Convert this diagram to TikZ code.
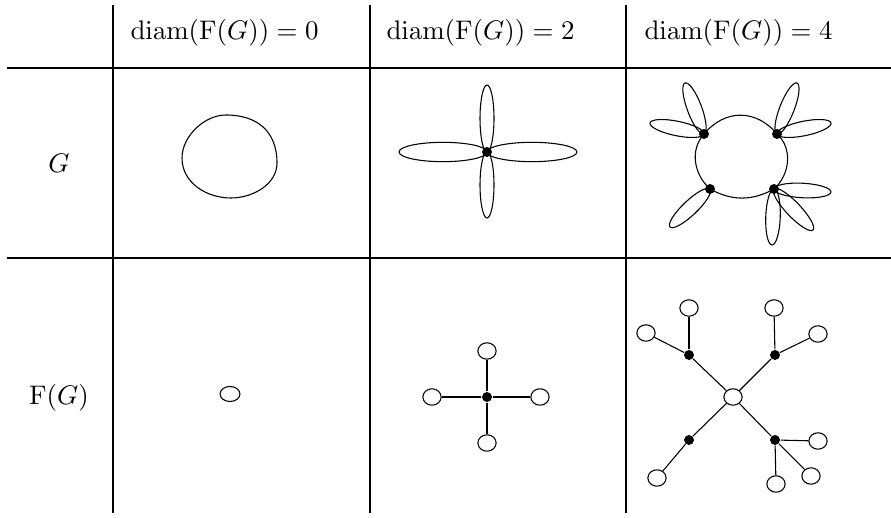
\documentclass[tikz,border=0pt]{standalone}
\usetikzlibrary{shapes.geometric,calc}
\tikzset{
  rule/.style={line width=0.45pt},
  curve/.style={line width=0.4pt},
  dot/.style={circle,fill=black,inner sep=0pt,minimum size=3.7pt},
  leaf/.style={ellipse,draw,line width=0.4pt,inner sep=0pt,minimum width=6.8pt,minimum height=6.1pt},
  edge/.style={line width=0.4pt},
  lbl/.style={inner sep=0pt,font=\normalsize}
}
\newcommand{\petal}[5]{%
  \pgfmathsetmacro\pa{atan2(-(#4-#2),#3-#1)}%
  \pgfmathsetmacro\pl{0.5*0.372*veclen(#3-#1,#4-#2)}%
  \draw[curve] ({(#1+#3)/2},{(#2+#4)/2}) circle [x radius=\pl pt, y radius=#5pt, rotate=\pa];%
}
\begin{document}
\begin{tikzpicture}[x=0.372pt,y=-0.372pt]
\useasboundingbox (0,0) rectangle (891,518);
% table rules
\coordinate (h1a) at (7,68); \coordinate (h1b) at (891,68);
\coordinate (h2a) at (7,258); \coordinate (h2b) at (891,258);
\coordinate (v1a) at (113,5); \coordinate (v1b) at (113,513);
\coordinate (v2a) at (370,5); \coordinate (v2b) at (370,513);
\coordinate (v3a) at (626,5); \coordinate (v3b) at (626,513);
\draw[rule] (h1a) -- (h1b);
\draw[rule] (h2a) -- (h2b);
\draw[rule] (v1a) -- (v1b);
\draw[rule] (v2a) -- (v2b);
\draw[rule] (v3a) -- (v3b);
% headers
\node[lbl,anchor=west] (t0) at (130,33) {$\mathrm{diam}(\mathrm{F}(G)) = 0$};
\node[lbl,anchor=west] (t2) at (386,33) {$\mathrm{diam}(\mathrm{F}(G)) = 2$};
\node[lbl,anchor=west] (t4) at (644,33) {$\mathrm{diam}(\mathrm{F}(G)) = 4$};
\node[lbl] (rG) at (59,163) {$G$};
\node[lbl] (rF) at (59,398) {$\mathrm{F}(G)$};
% column 2, G
\coordinate (q1) at (226,115);
\coordinate (q2) at (277,163);
\coordinate (q3) at (231,198);
\coordinate (q4) at (182,158);
\draw[curve] (q1) to[out=0,in=90,looseness=1.15] (q2)
  to[out=-90,in=0,looseness=0.95] (q3)
  to[out=180,in=-90,looseness=1.0] (q4)
  to[out=90,in=180,looseness=0.9] (q1);
% column 2, F(G)
\node[leaf,minimum width=7.4pt,minimum height=5.6pt] (s0) at (230,394) {};
% column 3, G
\coordinate (c3) at (487,152);
\petal{487}{152}{487}{85}{2.6}
\petal{487}{152}{487}{218}{2.6}
\petal{487}{152}{399}{152}{3.6}
\petal{487}{152}{577}{152}{3.6}
\node[dot] (c3dot) at (c3) {};
% column 3, F(G)
\node[dot] (m) at (487,397) {};
\node[leaf] (mu) at (487,351) {};
\node[leaf] (md) at (487,443) {};
\node[leaf] (ml) at (432,397) {};
\node[leaf] (mr) at (540,397) {};
\draw[edge] (m) -- (mu);
\draw[edge] (m) -- (md);
\draw[edge] (m) -- (ml);
\draw[edge] (m) -- (mr);
% column 4, G
\petal{704}{134}{685}{83}{2.7}
\petal{704}{134}{650}{123}{2.7}
\petal{777}{134}{797}{83}{2.7}
\petal{777}{134}{831}{123}{2.7}
\petal{710}{189}{670}{227}{2.7}
\petal{774}{189}{831}{192}{2.7}
\petal{774}{189}{813}{230}{2.7}
\petal{774}{189}{772}{245}{2.7}
\coordinate (p1) at (704,134);
\coordinate (p2) at (777,134);
\coordinate (p3) at (710,189);
\coordinate (p4) at (774,189);
\draw[curve] (p1) to[out=50,in=130,looseness=1.15] (p2)
  to[out=-42,in=42] (p4)
  to[out=-151,in=-29] (p3)
  to[out=138,in=-132] (p1);
\node[dot] (g1) at (p1) {};
\node[dot] (g2) at (p2) {};
\node[dot] (g3) at (p3) {};
\node[dot] (g4) at (p4) {};
% column 4, F(G)
\node[leaf] (z) at (733,397) {};
\node[dot] (a) at (689,355) {};
\node[dot] (b) at (775,355) {};
\node[dot] (c) at (689,440) {};
\node[dot] (d) at (775,440) {};
\node[leaf] (a1) at (689,308) {};
\node[leaf] (a2) at (646,333) {};
\node[leaf] (b1) at (774,308) {};
\node[leaf] (b2) at (818,334) {};
\node[leaf] (c1) at (657,478) {};
\node[leaf] (d1) at (818,441) {};
\node[leaf] (d2) at (811,476) {};
\node[leaf] (d3) at (776,484) {};
\draw[edge] (z) -- (a);
\draw[edge] (z) -- (b);
\draw[edge] (z) -- (c);
\draw[edge] (z) -- (d);
\draw[edge] (a) -- (a1);
\draw[edge] (a) -- (a2);
\draw[edge] (b) -- (b1);
\draw[edge] (b) -- (b2);
\draw[edge] (c) -- (c1);
\draw[edge] (d) -- (d1);
\draw[edge] (d) -- (d2);
\draw[edge] (d) -- (d3);
\end{tikzpicture}
\end{document}
